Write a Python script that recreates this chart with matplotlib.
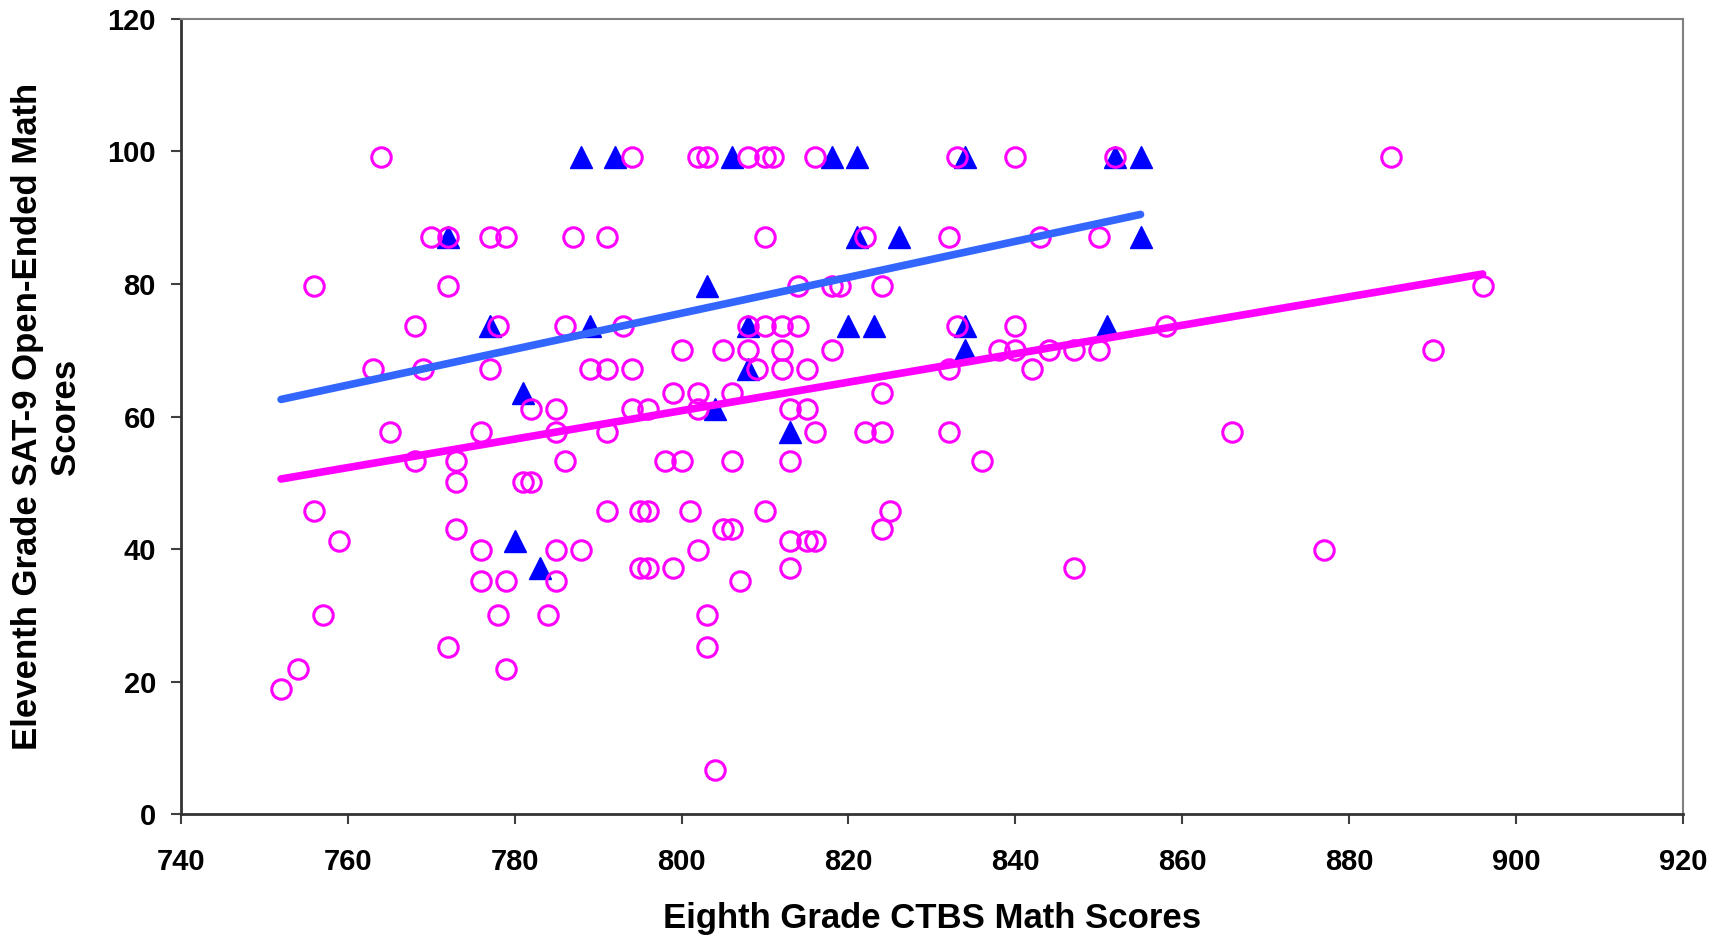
import numpy as np
import matplotlib
matplotlib.use('Agg')
import matplotlib.pyplot as plt

plt.rcParams['font.family'] = ['Liberation Sans', 'DejaVu Sans']
plt.rcParams['font.weight'] = 'bold'

# open circles: (eighth grade CTBS, eleventh grade SAT-9) grouped by score row
circle_rows = {
    99.1: [764, 794, 802, 803, 808, 810, 811, 816, 833, 840, 852, 885],
    87.1: [770, 772, 777, 779, 787, 791, 810, 822, 832, 843, 850],
    79.7: [756, 772, 814, 818, 819, 824, 896],
    73.7: [768, 778, 786, 793, 808, 810, 812, 814, 833, 840, 858],
    70.1: [800, 805, 808, 812, 818, 838, 840, 844, 847, 850, 890],
    67.2: [763, 769, 777, 789, 791, 794, 809, 812, 815, 832, 842],
    63.5: [799, 802, 806, 824],
    61.1: [782, 785, 794, 796, 802, 813, 815],
    57.6: [765, 776, 785, 791, 816, 822, 824, 832, 866],
    53.3: [768, 773, 786, 798, 800, 806, 813, 836],
    50.2: [773, 781, 782],
    45.8: [756, 791, 795, 796, 801, 810, 825],
    43.0: [773, 805, 806, 824],
    41.3: [759, 813, 815, 816],
    39.8: [776, 785, 788, 802, 877],
    37.2: [795, 796, 799, 813, 847],
    35.2: [776, 779, 785, 807],
    30.0: [757, 778, 784, 803],
    25.3: [772, 803],
    21.9: [754, 779],
    18.9: [752],
    6.7: [804],
}

# filled triangles
triangle_rows = {
    99.1: [788, 792, 806, 818, 821, 834, 852, 855],
    87.1: [772, 821, 826, 855],
    79.7: [803],
    73.7: [777, 789, 808, 820, 823, 834, 851],
    70.1: [834],
    67.2: [808],
    63.5: [781],
    61.1: [804],
    57.6: [813],
    41.3: [780],
    37.2: [783],
}

x_ticks = [740, 760, 780, 800, 820, 840, 860, 880, 900, 920]
y_ticks = [0, 20, 40, 60, 80, 100, 120]


def flatten(rows):
    xs, ys = [], []
    for y, xlist in rows.items():
        for x in xlist:
            xs.append(x)
            ys.append(y)
    return np.array(xs, float), np.array(ys, float)


cx, cy = flatten(circle_rows)
tx, ty = flatten(triangle_rows)

fig = plt.figure(figsize=(17.12, 9.38), dpi=100)
ax = fig.add_axes([0.1057, 0.1317, 0.8773, 0.8485])

ax.plot(tx, ty, linestyle='none', marker='^', markersize=16,
        color='#0000FF', markeredgecolor='#0000FF', zorder=2)
ax.plot(cx, cy, linestyle='none', marker='o', markersize=14,
        markerfacecolor='none', markeredgecolor='#FF00FF',
        markeredgewidth=2.2, zorder=3)

# linear trendlines
pc = np.polyfit(cx, cy, 1)
pt = np.polyfit(tx, ty, 1)
xl_c = np.array([cx.min(), cx.max()])
xl_t = np.array([cx.min(), tx.max()])
ax.plot(xl_t, np.polyval(pt, xl_t), color='#3366FF', linewidth=5.5,
        solid_capstyle='round', zorder=4)
ax.plot(xl_c, np.polyval(pc, xl_c), color='#FF00FF', linewidth=5.5,
        solid_capstyle='round', zorder=4)

ax.set_xlim(740, 920)
ax.set_ylim(0, 120)
ax.set_xticks(x_ticks)
ax.set_yticks(y_ticks)
ax.tick_params(axis='both', direction='out', length=7, width=1.5,
               labelsize=21, color='#404040')
ax.tick_params(axis='x', pad=17)
ax.tick_params(axis='y', pad=11)
for lab in ax.get_xticklabels() + ax.get_yticklabels():
    lab.set_fontweight('bold')

for side in ['left', 'bottom']:
    ax.spines[side].set_color('#333333')
    ax.spines[side].set_linewidth(2)
for side in ['top', 'right']:
    ax.spines[side].set_color('#808080')
    ax.spines[side].set_linewidth(1.5)

ax.set_xlabel('Eighth Grade CTBS Math Scores', fontsize=25,
              fontweight='bold', labelpad=19)
ax.set_ylabel('Eleventh Grade SAT-9 Open-Ended Math\nScores', fontsize=25,
              fontweight='bold', labelpad=18, linespacing=1.2)

fig.savefig('out.png', dpi=100)
